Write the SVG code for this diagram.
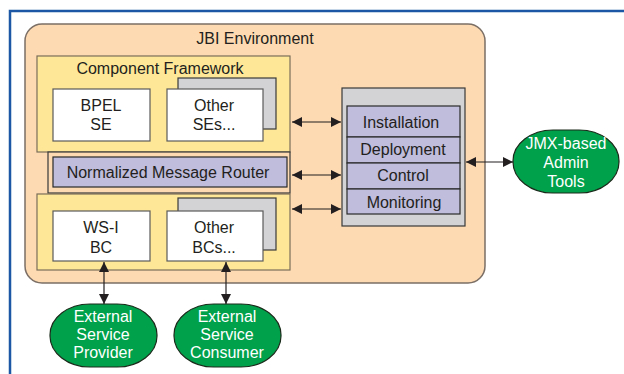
<svg xmlns="http://www.w3.org/2000/svg" width="624" height="374" viewBox="0 0 624 374">
<defs>
<marker id="ah" viewBox="0 0 10 10" refX="10" refY="5" markerWidth="10" markerHeight="10" markerUnits="userSpaceOnUse" orient="auto-start-reverse">
<path d="M0,0 L10,5 L0,10 Z" fill="#231f20"/>
</marker>
<style>
text{font-family:"Liberation Sans",Arial,sans-serif;font-size:16px;fill:#231f20;text-anchor:middle}
.w{fill:#ffffff}
.box{fill:#ffffff;stroke:#5a5a5a;stroke-width:1.2}
.sh{fill:#d3d3d5;stroke:#3a3a3a;stroke-width:1.2}
.yel{fill:#fee897;stroke:#7a6e5a;stroke-width:1.2}
.pur{fill:#bfbcdc;stroke:#2a2a2a;stroke-width:1.2}
.grn{fill:#00a14b;stroke:#1a2a1a;stroke-width:1.2}
.con{stroke:#231f20;stroke-width:1.2;fill:none;marker-start:url(#ah);marker-end:url(#ah)}
</style>
</defs>
<rect width="624" height="374" fill="#ffffff"/>
<path d="M10 374 V11 H624" fill="none" stroke="#1b57a5" stroke-width="2.5"/>

<g id="jbi">
<rect x="25" y="24" width="460" height="259" rx="17" fill="#fddab1" stroke="#7b6f66" stroke-width="1.5"/>
<text x="255" y="44">JBI Environment</text>
</g>

<g id="component-framework">
<rect class="yel" x="37" y="56" width="253" height="96"/>
<text x="160" y="74">Component Framework</text>
</g>
<g id="bpel">
<rect class="box" x="53" y="89" width="97" height="52"/>
<text x="101" y="111">BPEL</text>
<text x="101" y="130">SE</text>
</g>
<g id="other-ses">
<rect class="sh" x="178" y="78" width="98" height="51"/>
<rect class="box" x="167" y="89" width="96" height="52"/>
<text x="214" y="111">Other</text>
<text x="214" y="130">SEs...</text>
</g>

<g id="nmr">
<rect x="48" y="152" width="242" height="41" fill="#fddab1" stroke="#3a3a3a" stroke-width="1.2"/>
<rect class="pur" x="53" y="157" width="234" height="30"/>
<text x="168" y="178">Normalized Message Router</text>
</g>

<g id="bc-framework">
<rect class="yel" x="37" y="194" width="253" height="76"/>
</g>
<g id="wsi-bc">
<rect class="box" x="53" y="211" width="97" height="50"/>
<text x="101" y="233">WS-I</text>
<text x="101" y="253">BC</text>
</g>
<g id="other-bcs">
<rect class="sh" x="178" y="198" width="98" height="52"/>
<rect class="box" x="167" y="211" width="96" height="50"/>
<text x="214" y="233">Other</text>
<text x="214" y="253">BCs...</text>
</g>

<g id="management">
<rect class="sh" x="342" y="88" width="123" height="138"/>
<rect class="pur" x="347" y="106" width="113" height="31"/>
<rect class="pur" x="347" y="137" width="113" height="26"/>
<rect class="pur" x="347" y="163" width="113" height="26"/>
<rect class="pur" x="347" y="189" width="113" height="25"/>
<text x="401" y="128">Installation</text>
<text x="403" y="155">Deployment</text>
<text x="403" y="181">Control</text>
<text x="404" y="208">Monitoring</text>
</g>

<g id="jmx">
<rect class="grn" x="513" y="130" width="106" height="63" rx="40" ry="31"/>
<text class="w" x="566" y="149">JMX-based</text>
<text class="w" x="566" y="168">Admin</text>
<text class="w" x="566" y="187">Tools</text>
</g>

<g id="provider">
<rect class="grn" x="50" y="304" width="107" height="63" rx="40" ry="31"/>
<text class="w" x="103" y="322">External</text>
<text class="w" x="103" y="340">Service</text>
<text class="w" x="103" y="358">Provider</text>
</g>
<g id="consumer">
<rect class="grn" x="174" y="304" width="107" height="63" rx="40" ry="31"/>
<text class="w" x="227" y="322">External</text>
<text class="w" x="227" y="340">Service</text>
<text class="w" x="227" y="358">Consumer</text>
</g>

<g id="connectors">
<line class="con" x1="292" y1="122" x2="341" y2="122"/>
<line class="con" x1="292" y1="175" x2="341" y2="175"/>
<line class="con" x1="292" y1="209" x2="341" y2="209"/>
<line class="con" x1="466" y1="162" x2="513" y2="162"/>
<line class="con" x1="104" y1="262" x2="104" y2="304"/>
<line class="con" x1="226" y1="262" x2="226" y2="304"/>
</g>
</svg>
